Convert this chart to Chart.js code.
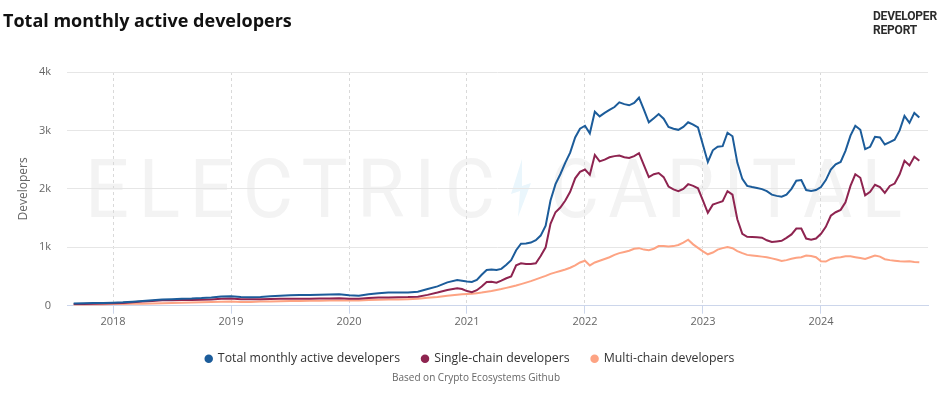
<!DOCTYPE html>
<html><head><meta charset="utf-8">
<script src="https://cdn.jsdelivr.net/npm/chart.js@4.4.0/dist/chart.umd.min.js"></script>
<style>
html,body{margin:0;padding:0;background:#fff;}
body{width:947px;height:395px;position:relative;overflow:hidden;font-family:"Open Sans",sans-serif;}
#title{position:absolute;left:3px;top:10px;font-size:18px;font-weight:700;line-height:20px;color:#111;white-space:nowrap;}
#logo{position:absolute;left:873px;top:9px;font-family:Roboto,sans-serif;font-weight:700;font-size:12px;line-height:14px;color:#2b2b2b;letter-spacing:-0.2px;}
#caption{position:absolute;left:0;width:952px;top:370px;text-align:center;font-size:10px;color:#666;}
canvas{position:absolute;left:0;top:0;}
</style></head>
<body>
<canvas id="c" width="947" height="395"></canvas>
<div id="title">Total monthly active developers</div>
<div id="logo">DEVELOPER<br>REPORT</div>
<div id="caption">Based on Crypto Ecosystems Github</div>
<script>
// ---- data ----
const seriesNames = ["Total monthly active developers", "Single-chain developers", "Multi-chain developers"];
const yearTicks = [2018, 2019, 2020, 2021, 2022, 2023, 2024];
const yTicks = [0, 1000, 2000, 3000, 4000];

const dates = [
 "2017-09-01","2017-10-01","2017-11-01","2017-12-01",
 "2018-01-01","2018-02-01","2018-03-01","2018-04-01","2018-05-01","2018-06-01","2018-07-01","2018-08-01","2018-09-01","2018-10-01","2018-11-01","2018-12-01",
 "2019-01-01","2019-02-01","2019-03-01","2019-04-01","2019-05-01","2019-06-01","2019-07-01","2019-08-01","2019-09-01","2019-10-01","2019-11-01","2019-12-01",
 "2020-01-01","2020-02-01","2020-03-01","2020-04-01","2020-05-01","2020-06-01","2020-07-01","2020-08-01","2020-09-01","2020-10-01","2020-11-01","2020-12-01","2020-12-16",
 "2021-01-01","2021-01-16","2021-02-01","2021-02-16","2021-03-01","2021-03-16","2021-04-01","2021-04-16","2021-05-01","2021-05-16","2021-06-01","2021-06-16",
 "2021-07-01","2021-07-16","2021-08-01","2021-08-16","2021-09-01","2021-09-16","2021-10-01","2021-10-16","2021-11-01","2021-11-16","2021-12-01","2021-12-16",
 "2022-01-01","2022-01-16","2022-02-01","2022-02-16","2022-03-01","2022-03-16","2022-04-01","2022-04-16","2022-05-01","2022-05-16","2022-06-01","2022-06-16",
 "2022-07-01","2022-07-16","2022-08-01","2022-08-16","2022-09-01","2022-09-16","2022-10-01","2022-10-16","2022-11-01","2022-11-16","2022-12-01","2022-12-16",
 "2023-01-01","2023-01-16","2023-02-01","2023-02-16","2023-03-01","2023-03-16","2023-04-01","2023-04-16","2023-05-01","2023-05-16","2023-06-01","2023-06-16",
 "2023-07-01","2023-07-16","2023-08-01","2023-08-16","2023-09-01","2023-09-16","2023-10-01","2023-10-16","2023-11-01","2023-11-16","2023-12-01","2023-12-16",
 "2024-01-01","2024-01-16","2024-02-01","2024-02-16","2024-03-01","2024-03-16","2024-04-01","2024-04-16","2024-05-01","2024-05-16","2024-06-01","2024-06-16",
 "2024-07-01","2024-07-16","2024-08-01","2024-08-16","2024-09-01","2024-09-16","2024-10-01","2024-10-16","2024-11-01"
];

const totalDevs = [
 38,42,45,48,
 52,58,68,80,95,108,112,118,122,130,142,158,
 162,148,145,150,162,172,178,182,185,188,192,195,
 180,172,195,215,225,228,226,240,285,330,400,440,428,
 415,405,440,530,610,620,610,630,700,780,950,1060,
 1065,1080,1120,1200,1370,1800,2080,2250,2450,2620,2880,3030,
 3080,2950,3320,3240,3300,3350,3400,3480,3450,3430,3470,3560,
 3350,3140,3210,3280,3200,3060,3030,3010,3060,3140,3100,3050,
 2750,2460,2660,2720,2730,2960,2900,2450,2170,2050,2030,2015,
 1995,1960,1900,1880,1865,1900,2000,2140,2150,1980,1965,1980,
 2030,2150,2330,2420,2460,2650,2910,3080,3010,2680,2720,2890,
 2880,2760,2800,2840,3000,3250,3130,3300,3220
];

const singleChain = [
 28,30,33,36,
 40,48,58,70,82,92,94,96,98,100,108,118,
 122,112,110,112,115,118,118,118,120,122,125,128,
 120,118,130,140,142,145,148,155,185,225,270,298,285,
 250,232,265,330,405,410,395,430,470,500,690,725,
 715,715,725,850,1000,1400,1600,1680,1800,1950,2180,2290,
 2330,2240,2580,2470,2500,2540,2560,2570,2540,2530,2560,2610,
 2400,2200,2250,2270,2200,2040,1990,1960,2000,2080,2050,2010,
 1800,1590,1730,1760,1790,1960,1900,1480,1230,1180,1175,1170,
 1165,1120,1090,1100,1110,1160,1220,1320,1320,1150,1130,1150,
 1230,1350,1540,1600,1640,1770,2050,2250,2190,1890,1950,2070,
 2030,1930,2050,2090,2250,2480,2400,2550,2480
];

const multiChain = [
 15,18,20,22,
 27,30,33,35,38,42,45,50,54,58,62,66,
 70,62,64,70,74,78,80,82,84,86,88,90,
 88,90,96,100,104,108,112,118,135,150,172,188,195,
 200,205,215,225,240,252,268,285,305,325,345,370,
 395,420,450,480,510,545,570,595,620,650,690,740,
 770,690,740,770,800,830,870,900,920,940,975,985,
 960,950,975,1020,1020,1015,1020,1040,1080,1130,1050,990,
 930,880,910,960,985,1005,985,935,900,870,860,850,
 840,830,810,790,765,780,805,820,830,860,850,830,
 760,755,800,820,830,845,845,830,815,800,830,860,
 840,795,780,770,760,755,760,750,745
];

const colors = ["#1c5c9a", "#8e2450", "#fda383"];

// ---- helpers ----
function decYear(d){
  const p = d.split("-").map(Number);
  return p[0] + ((p[1]-1) + (p[2]-1)/30.5)/12;
}
function pts(arr){ return dates.map((d,i)=>({x:decYear(d), y:arr[i]})); }

const watermark = {
  id: "watermark",
  beforeDraw(chart){
    const ctx = chart.ctx;
    ctx.save();
    ctx.fillStyle = "#f3f3f3";
    ctx.font = "400 82px Roboto";
    ctx.textBaseline = "alphabetic";
    function fit(text, x0, x1, base){
      ctx.letterSpacing = "10px";
      const w = ctx.measureText(text).width - 10;
      ctx.save();
      ctx.translate(x0, base);
      ctx.scale((x1-x0)/w, 1);
      ctx.fillText(text, 0, 0);
      ctx.restore();
    }
    fit("ELECTRIC", 85, 495, 217);
    fit("CAPITAL", 550, 902, 217);
    ctx.letterSpacing = "0px";
    ctx.fillStyle = "#eaf6fc";
    ctx.beginPath();
    ctx.moveTo(522,159); ctx.lineTo(511,194); ctx.lineTo(520,191);
    ctx.lineTo(518,217); ctx.lineTo(531,183); ctx.lineTo(522,186);
    ctx.closePath(); ctx.fill();
    ctx.restore();
  }
};

const font = "'Open Sans', sans-serif";
new Chart(document.getElementById("c"), {
  type: "line",
  data: {
    datasets: [totalDevs, singleChain, multiChain].map((arr,i)=>({
      label: seriesNames[i],
      data: pts(arr),
      borderColor: colors[i],
      backgroundColor: colors[i],
      borderWidth: 2,
      pointRadius: 0,
      tension: 0
    }))
  },
  plugins: [watermark],
  options: {
    responsive: false,
    animation: false,
    parsing: false,
    layout: { padding: { left: 12, right: 19, top: 72, bottom: 20 } },
    plugins: {
      tooltip: { enabled: false },
      title: { display: false },
      legend: {
        position: "bottom",
        labels: {
          usePointStyle: true, pointStyle: "circle", boxWidth: 6, boxHeight: 6,
          padding: 22, color: "#333", font: { family: font, size: 12.3 },
          generateLabels(chart){
            const items = Chart.defaults.plugins.legend.labels.generateLabels(chart);
            items.forEach(it => { it.lineWidth = 0; });
            return items;
          }
        }
      }
    },
    scales: {
      x: {
        type: "linear", min: 2017.61, max: 2024.907,
        afterBuildTicks(s){ s.ticks = yearTicks.map(v=>({value:v})); },
        afterFit(s){ s.height = 25; },
        grid: { color: "#d9d9d9", lineWidth: 1, drawTicks: true, tickLength: 8, tickColor: "#ccd6eb", tickWidth: 1 },
        border: { display: true, color: "#ccd6eb", width: 1, dash: [3,3] },
        ticks: { padding: 2, color: "#666", font: { family: font, size: 11 }, maxRotation: 0, autoSkip: false,
                 callback: v => String(v) }
      },
      y: {
        min: 0, max: 4000,
        afterBuildTicks(s){ s.ticks = yTicks.map(v=>({value:v})); },
        afterFit(s){ s.width = 55; },
        grid: { color: c => c.tick && c.tick.value === 0 ? "rgba(0,0,0,0)" : "#e6e6e6", drawTicks: false, lineWidth: 1 },
        border: { display: false },
        ticks: { padding: 16, color: "#666", font: { family: font, size: 11 },
                 callback: v => v === 0 ? "0" : (v/1000) + "k" },
        title: { display: true, text: "Developers", color: "#666", font: { family: font, size: 12 }, padding: { top: 4, bottom: 0 } }
      }
    }
  }
});
</script>
</body></html>
